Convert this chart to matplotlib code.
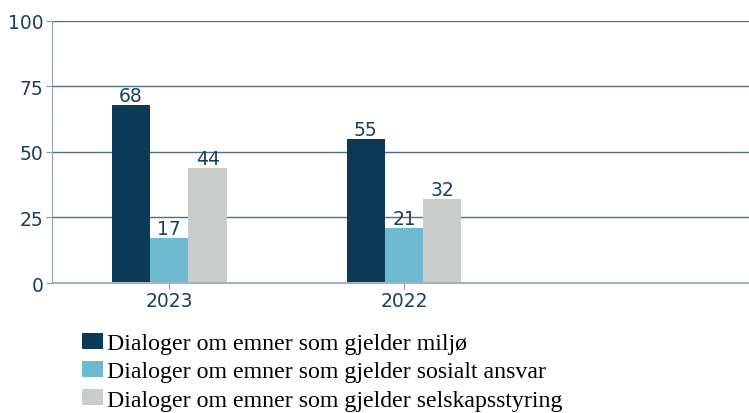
import matplotlib.pyplot as plt
import numpy as np

plt.rcParams['font.family'] = ['DejaVu Sans']

years = ['2023', '2022']
series = ['Dialoger om emner som gjelder miljø',
          'Dialoger om emner som gjelder sosialt ansvar',
          'Dialoger om emner som gjelder selskapsstyring']
miljo = [68, 55]
sosialt = [17, 21]
styring = [44, 32]
colors = ['#0a3a56', '#6db9cf', '#c8cdcb']
text_color = '#1c4060'

fig = plt.figure(figsize=(7.49, 4.14), dpi=100)
ax = fig.add_axes([0.0694, 0.314, 0.9306, 0.633])

x = np.arange(len(years))
w = 0.163
for i, vals in enumerate([miljo, sosialt, styring]):
    bars = ax.bar(x + (i - 1) * w, vals, w, color=colors[i], label=series[i], zorder=3)
    for b, v in zip(bars, vals):
        ax.annotate(str(v), (b.get_x() + b.get_width() / 2, v), xytext=(0, 0),
                    textcoords='offset points', ha='center', va='bottom',
                    fontsize=13.5, color=text_color)

ax.set_xlim(-0.5, 2.47)
ax.set_ylim(0, 100)
ax.set_yticks([0, 25, 50, 75, 100])
ax.set_xticks(x)
ax.set_xticklabels(years)
ax.tick_params(axis='both', labelsize=13.5, labelcolor=text_color, colors='#7f97a8', length=4)
ax.tick_params(axis='x', pad=2)
ax.tick_params(axis='y', pad=2)
ax.grid(axis='y', color='#4a6f8a', linewidth=1, zorder=0)
for s in ['top', 'right']:
    ax.spines[s].set_visible(False)
ax.spines['left'].set_color('#8fa5b4')
ax.spines['bottom'].set_color('#a0b4c0')
ax.spines['bottom'].set_linewidth(1.5)
ax.spines['bottom'].set_zorder(4)

fig.legend(loc='upper left', bbox_to_anchor=(0.109, 0.193), frameon=False,
           prop={'family': 'Liberation Serif', 'size': 17.2},
           handlelength=0.9, handleheight=0.63, handletextpad=0.15,
           labelspacing=0.29, borderpad=0, borderaxespad=0)

fig.savefig('out.png', dpi=100)
